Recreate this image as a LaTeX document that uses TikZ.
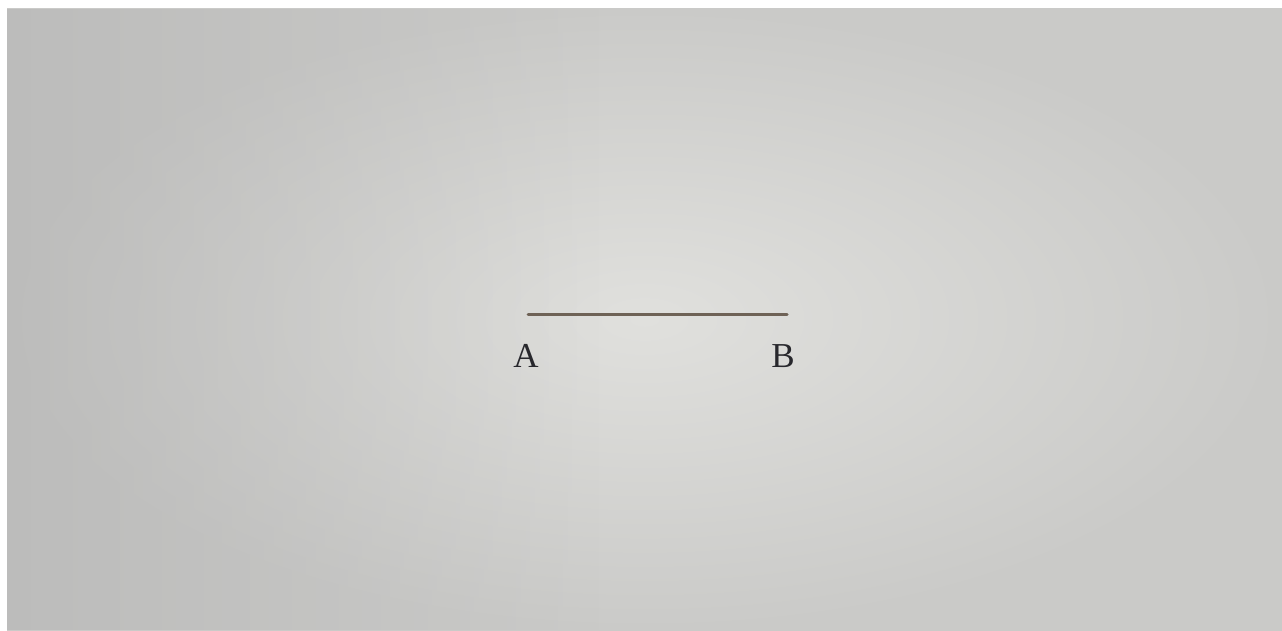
\documentclass[tikz,border=0pt]{standalone}
\usepackage{fontspec}
\setmainfont{Liberation Serif}
\usetikzlibrary{fadings}
\definecolor{bgin}{RGB}{224,224,221}
\definecolor{bgout}{RGB}{202,202,200}
\definecolor{bgdark}{RGB}{175,175,175}
\definecolor{seg}{RGB}{110,98,86}
\definecolor{lbl}{RGB}{40,40,45}
\begin{document}
\begin{tikzpicture}[x=1pt,y=-1pt,
  lab/.style={text=lbl,font=\fontsize{35}{40}\selectfont,inner sep=0pt},
  segline/.style={draw=seg,line width=3pt,line cap=round}]
\useasboundingbox (0,0) rectangle (1282,630);
\fill[white] (0,0) rectangle (1282,630);
\shade[inner color=bgin,outer color=bgout] (7,8) rectangle (1282,630);
\fill[bgdark,path fading=east,opacity=0.5] (7,8) rectangle (600,630);
\coordinate (pA) at (528,314);
\coordinate (pB) at (787,314);
\draw[segline] (pA) -- (pB);
\node[lab] (A) at (526,356) {A};
\node[lab] (B) at (783,356) {B};
\end{tikzpicture}
\end{document}
